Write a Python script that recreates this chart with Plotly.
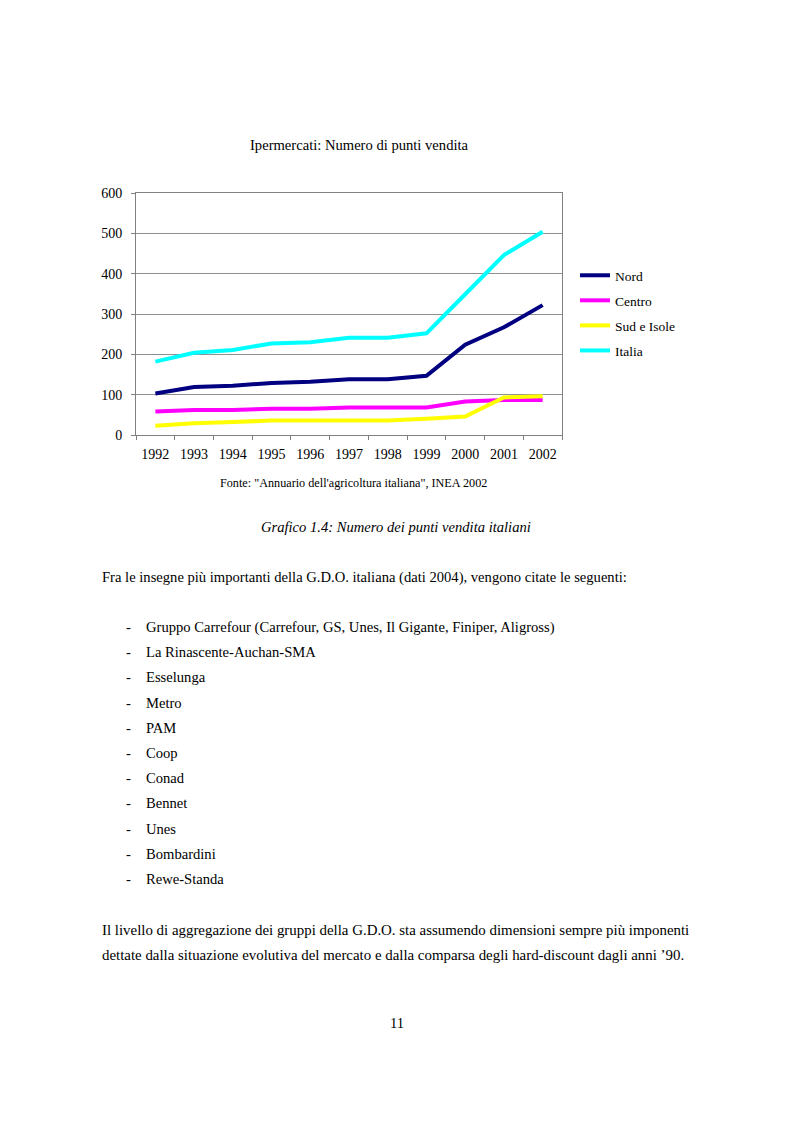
import plotly.graph_objects as go

years = ["1992", "1993", "1994", "1995", "1996", "1997", "1998", "1999", "2000", "2001", "2002"]
nord = [103, 119, 122, 129, 132, 138, 138, 147, 224, 267, 322]
centro = [58, 62, 62, 65, 65, 68, 68, 68, 83, 87, 87]
sud_isole = [23, 29, 32, 36, 36, 36, 36, 40, 46, 93, 96]
italia = [182, 204, 211, 227, 230, 241, 241, 252, 349, 446, 504]

series_names = ["Nord", "Centro", "Sud e Isole", "Italia"]
series_values = [nord, centro, sud_isole, italia]
series_colors = ["#000080", "#FF00FF", "#FFFF00", "#00FFFF"]

list_items = [
    "Gruppo Carrefour (Carrefour, GS, Unes, Il Gigante, Finiper, Aligross)",
    "La Rinascente-Auchan-SMA",
    "Esselunga",
    "Metro",
    "PAM",
    "Coop",
    "Conad",
    "Bennet",
    "Unes",
    "Bombardini",
    "Rewe-Standa",
]

OFF = 8  # page body margin
W, H = 793 - OFF, 1123 - OFF
L, R, T, B = 136, 562, 193, 435

def px(x):
    return (x - L) / (R - L)

def py(y):
    return (B - y) / (B - T)

FONT = "Liberation Serif"

fig = go.Figure()
for name, vals, col in zip(series_names, series_values, series_colors):
    fig.add_trace(go.Scatter(x=years, y=vals, name=name, mode="lines", legendgroup=name,
                             line=dict(color=col, width=4)))

ann = []
def text(x, y, s, size=14.6, anchor="left", italic=False):
    ann.append(dict(x=px(x), y=py(y), xref="paper", yref="paper", text=s,
                    showarrow=False, xanchor=anchor, yanchor="middle",
                    font=dict(family=FONT, size=size, color="black",
                              style="italic" if italic else "normal")))

text(248, 145, "Ipermercati: Numero di punti vendita", size=14.6)
text(218, 483, "Fonte: \"Annuario dell'agricoltura italiana\", INEA 2002", size=12.2)
text(396, 527, "Grafico 1.4: Numero dei punti vendita italiani", size=14.6, anchor="center", italic=True)
text(100, 577, "Fra le insegne più importanti della G.D.O. italiana (dati 2004), vengono citate le seguenti:")
ys = [627, 652, 677, 703, 728, 753, 778, 803, 829, 854, 879]
for yy, item in zip(ys, list_items):
    text(124, yy, "-")
    text(144, yy, item)
text(100, 930, "Il livello di aggregazione dei gruppi della G.D.O. sta assumendo dimensioni sempre più imponenti", size=14.9)
text(100, 955, "dettate dalla situazione evolutiva del mercato e dalla comparsa degli hard-discount dagli anni ’90.", size=14.9)
text(397, 1023, "11", anchor="center")

fig.update_layout(
    width=W, height=H,
    margin=dict(l=L - OFF, r=W - (R - OFF), t=T - OFF, b=H - (B - OFF), pad=0),
    paper_bgcolor="white", plot_bgcolor="white",
    showlegend=True,
    legend=dict(x=px(575), y=py(260), xanchor="left", yanchor="top",
                font=dict(family=FONT, size=13.5, color="black"),
                tracegroupgap=4.5, itemwidth=30, bgcolor="rgba(0,0,0,0)"),
    annotations=ann,
    font=dict(family=FONT, color="black"),
)
fig.update_xaxes(type="category", tickson="boundaries", ticks="outside", ticklen=4,
                 tickcolor="#808080", showline=True, linecolor="#808080", mirror=True,
                 showgrid=False, tickfont=dict(family=FONT, size=14, color="black"),
                 ticklabelstandoff=6, range=[-0.5, 10.5])
fig.update_yaxes(range=[0, 600], dtick=100, ticks="outside", ticklen=4, tickcolor="#808080",
                 showline=True, linecolor="#808080", mirror=True, showgrid=True,
                 gridcolor="#909090", gridwidth=1, zeroline=False, ticklabelstandoff=6,
                 tickfont=dict(family=FONT, size=14, color="black"))

fig.write_html("out.html")
